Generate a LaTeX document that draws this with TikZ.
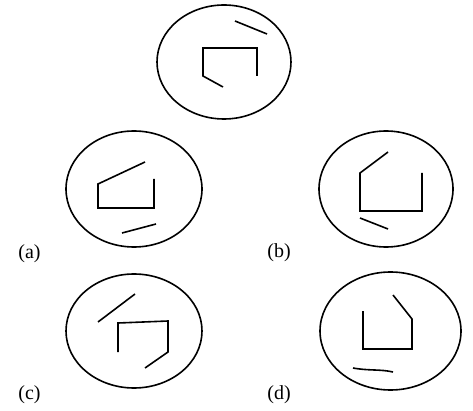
\documentclass[tikz,border=0pt]{standalone}
\usepackage{fontspec}
\setmainfont{Liberation Serif}
\begin{document}
\begin{tikzpicture}[x=1pt,y=-1pt,
  stroke/.style={line width=1.6pt,line join=miter},
  lab/.style={font=\fontsize{20}{22}\selectfont,inner sep=0pt}]
\useasboundingbox (0,0) rectangle (473,411);
% top
\draw[stroke] (224,62) ellipse [x radius=67,y radius=57];
\draw[stroke] (235,21) -- (267,34);
\draw[stroke] (223,87) -- (203,76) -- (203,48) -- (257,48) -- (257,76);
% (a)
\draw[stroke] (134,189) ellipse [x radius=68,y radius=58];
\draw[stroke] (145,162) -- (98,184) -- (98,208) -- (154,208) -- (154,179);
\draw[stroke] (122,233) -- (156,224);
\node[lab] (la) at (29.5,254) {(a)};
% (b)
\draw[stroke] (386,189) ellipse [x radius=67,y radius=58];
\draw[stroke] (388,152) -- (360,173) -- (360,211) -- (422,211) -- (422,173);
\draw[stroke] (360,218) -- (388,229);
\node[lab] (lb) at (279,253) {(b)};
% (c)
\draw[stroke] (134,331) ellipse [x radius=68,y radius=57];
\draw[stroke] (135,294) -- (98,322);
\draw[stroke] (118,352) -- (118,323) -- (168,321) -- (168,352) -- (145,368);
\node[lab] (lc) at (29.5,395) {(c)};
% (d)
\draw[stroke] (390.5,331) ellipse [x radius=70.5,y radius=59];
\draw[stroke] (363,311) -- (363,349) -- (412,349) -- (412,319) -- (393,295);
\draw[stroke] (353,368) .. controls (370,371) and (380,369) .. (393,372);
\node[lab] (ld) at (279,395) {(d)};
\end{tikzpicture}
\end{document}
